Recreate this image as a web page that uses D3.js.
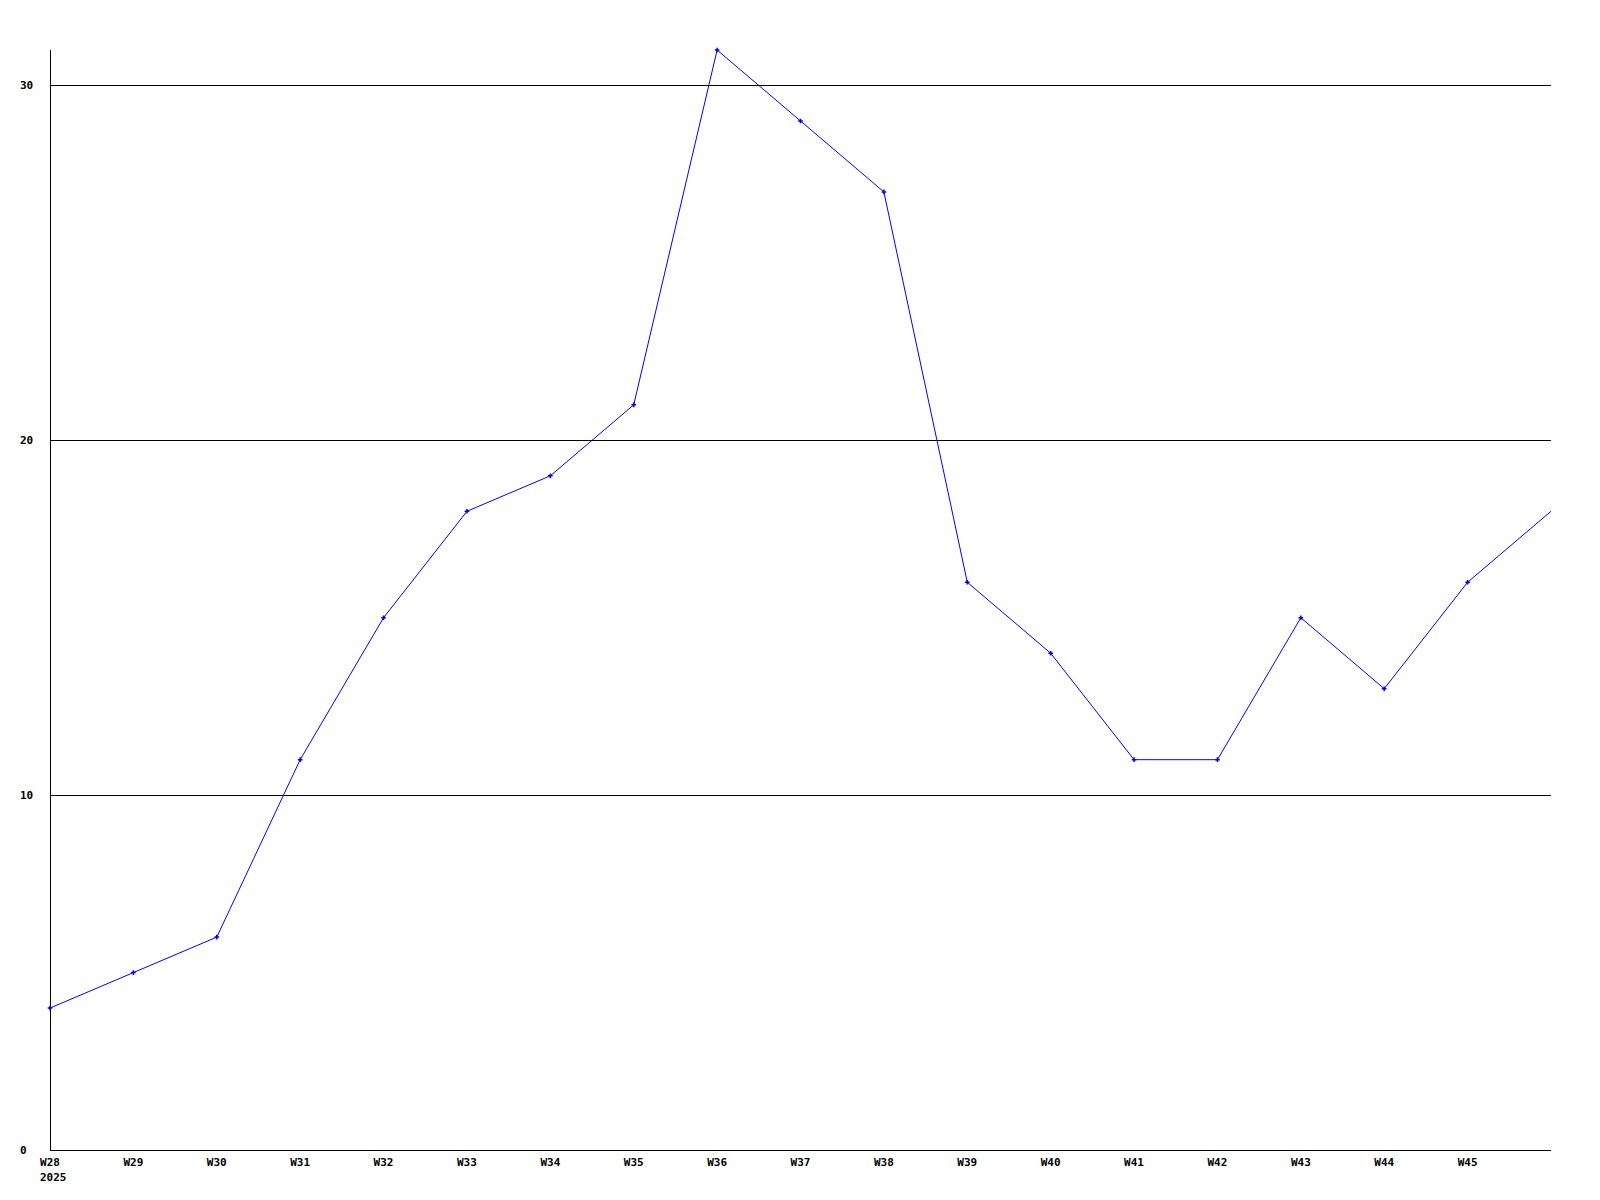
<!DOCTYPE html>
<meta charset="utf-8">
<head>
<style>
body { margin: 0; background: #fff; }
.lbl { font: bold 11px "DejaVu Sans Mono", monospace; fill: #000; }
.grid line, .axis line { stroke: #000; stroke-width: 1; shape-rendering: crispEdges; }
</style>
</head>
<body>
<script src="https://cdnjs.cloudflare.com/ajax/libs/d3/7.8.5/d3.min.js"></script>
<script>

// weeks along the x axis (last one sits on the right edge, unlabelled)
var weeks = ["W28", "W29", "W30", "W31", "W32", "W33", "W34", "W35", "W36",
             "W37", "W38", "W39", "W40", "W41", "W42", "W43", "W44", "W45", "W46"];
var counts = [4, 5, 6, 11, 15, 18, 19, 21, 31, 29, 27, 16, 14, 11, 11, 15, 13, 16, 18];
var yTicks = [0, 10, 20, 30];
var yearLabel = "2025";

var width = 1600, height = 1200;
var plotL = 50, plotR = 1551, plotT = 50, plotB = 1150;

var svg = d3.select("body").append("svg")
    .attr("width", width)
    .attr("height", height);

var x = d3.scalePoint()
    .domain(weeks)
    .range([plotL, plotR]);

var y = d3.scaleLinear()
    .domain([0, 31])
    .range([plotB, plotT]);

// horizontal grid lines
svg.append("g").attr("class", "grid")
  .selectAll("line")
  .data(yTicks.filter(function(d) { return d > 0; }))
  .enter().append("line")
    .attr("x1", plotL)
    .attr("x2", plotR)
    .attr("y1", function(d) { return Math.round(y(d)) + 0.5; })
    .attr("y2", function(d) { return Math.round(y(d)) + 0.5; });

// axes
var ax = svg.append("g").attr("class", "axis");
ax.append("line")
    .attr("x1", plotL + 0.5).attr("x2", plotL + 0.5)
    .attr("y1", plotT).attr("y2", plotB);
ax.append("line")
    .attr("x1", plotL).attr("x2", plotR)
    .attr("y1", plotB + 0.5).attr("y2", plotB + 0.5);

// y labels
svg.selectAll(".ylbl")
    .data(yTicks)
    .enter().append("text")
    .attr("class", "lbl")
    .attr("x", 20)
    .attr("y", function(d) { return y(d); })
    .attr("dy", "0.35em")
    .text(function(d) { return d; });

// x labels
svg.selectAll(".xlbl")
    .data(weeks.slice(0, weeks.length - 1))
    .enter().append("text")
    .attr("class", "lbl")
    .attr("x", function(d) { return x(d); })
    .attr("y", 1166)
    .style("text-anchor", "middle")
    .text(function(d) { return d; });

svg.append("text")
    .attr("class", "lbl")
    .attr("x", x(weeks[0]) - 10)
    .attr("y", 1181)
    .text(yearLabel);

var pts = weeks.map(function(w, i) { return {w: w, v: counts[i]}; });

var line = d3.line()
    .x(function(d) { return x(d.w); })
    .y(function(d) { return y(d.v); });

svg.append("path")
    .datum(pts)
    .attr("fill", "none")
    .attr("stroke", "#0000ff")
    .attr("stroke-width", 1)
    .attr("d", line);

svg.selectAll(".pt")
    .data(pts.slice(0, pts.length - 1))
    .enter().append("path")
    .attr("class", "pt")
    .attr("transform", function(d) { return "translate(" + x(d.w) + "," + y(d.v) + ")"; })
    .attr("d", d3.symbol().type(d3.symbolCross).size(12))
    .attr("fill", "#0000ff");

</script>
</body>
